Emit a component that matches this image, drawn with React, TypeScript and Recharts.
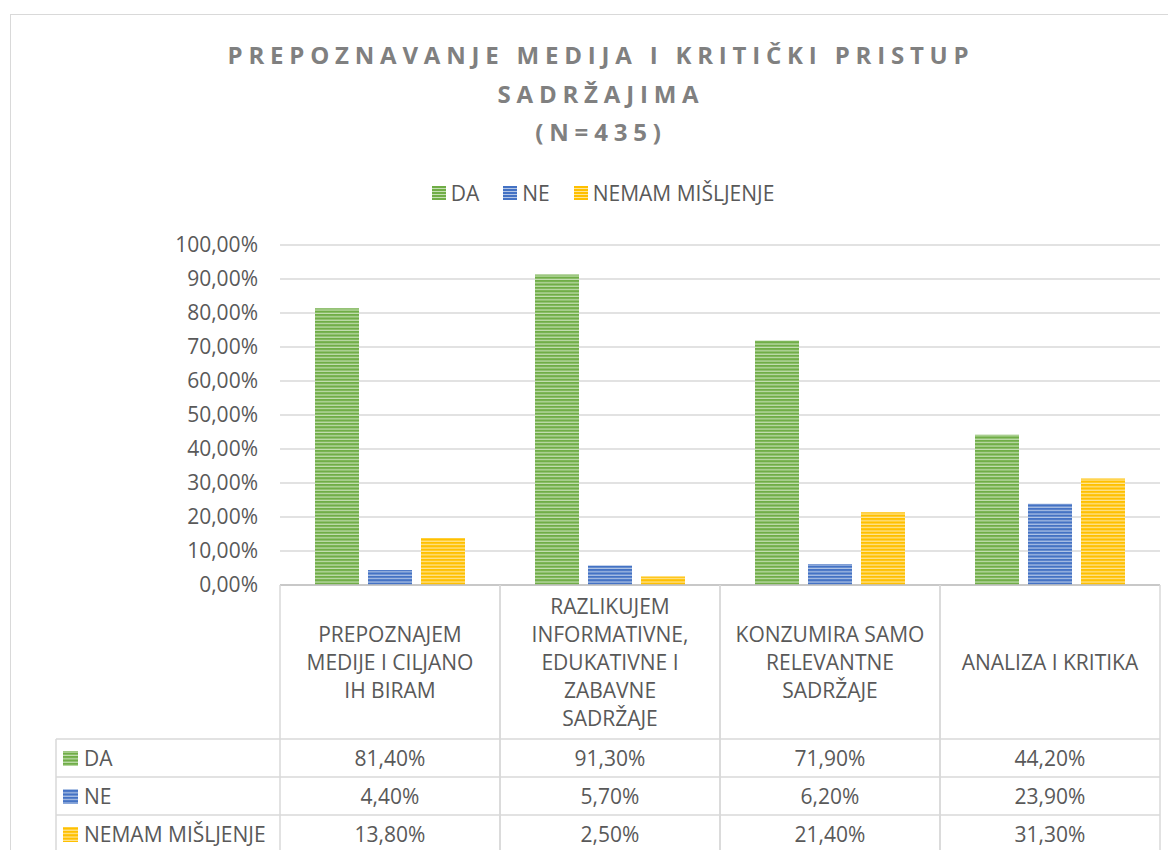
import {BarChart, Bar, XAxis, YAxis, CartesianGrid} from 'recharts';

const categories = [
    'PREPOZNAJEM\nMEDIJE I CILJANO\nIH BIRAM',
    'RAZLIKUJEM\nINFORMATIVNE,\nEDUKATIVNE I\nZABAVNE\nSADRŽAJE',
    'KONZUMIRA SAMO\nRELEVANTNE\nSADRŽAJE',
    'ANALIZA I KRITIKA',
];
const daValues = [81.4, 91.3, 71.9, 44.2];
const neValues = [4.4, 5.7, 6.2, 23.9];
const nemamValues = [13.8, 2.5, 21.4, 31.3];
const yTicks = [0, 10, 20, 30, 40, 50, 60, 70, 80, 90, 100];

const seriesList = [
    {key: 'da', name: 'DA', values: daValues, color: '#70AD47', light: '#C5E0B4'},
    {key: 'ne', name: 'NE', values: neValues, color: '#4472C4', light: '#B4C7E7'},
    {key: 'nemam', name: 'NEMAM MIŠLJENJE', values: nemamValues, color: '#FFC000', light: '#FFE699'},
];

const chartData = categories.map((name, i) => ({
    name,
    da: daValues[i],
    ne: neValues[i],
    nemam: nemamValues[i],
}));

const fmt = (v: number) => v.toFixed(2).replace('.', ',') + '%';

const FONT = '"Open Sans", sans-serif';
const FS = 21;
const TEXT = '#595959';
const LINE = '#d9d9d9';
const BAND = 220;
const HEAD_H = 154;
const ROW_H = 38;
const LEG_COL = 224;

const TableTick = (props: any) => {
    const {x, y, payload, index} = props;
    const left = x - BAND / 2;
    const right = x + BAND / 2;
    const lines = String(payload.value).split('\n');
    const lineH = 28;
    const headMid = y + HEAD_H / 2;
    const total = HEAD_H + ROW_H * 3;
    return (
        <g>
            <line x1={left} x2={left} y1={y} y2={y + total} stroke={LINE} strokeWidth={1.5} />
            <line x1={right} x2={right} y1={y} y2={y + total} stroke={LINE} strokeWidth={1.5} />
            {lines.map((l, k) => (
                <text key={k} x={x} y={headMid + (k - (lines.length - 1) / 2) * lineH} textAnchor="middle"
                      dominantBaseline="central" fill={TEXT} fontSize={FS} fontFamily={FONT}>{l}</text>
            ))}
            {seriesList.map((s, r) => {
                const top = y + HEAD_H + r * ROW_H;
                return (
                    <g key={s.key}>
                        <line x1={left} x2={right} y1={top} y2={top} stroke={LINE} strokeWidth={1.5} />
                        <text x={x} y={top + ROW_H / 2} textAnchor="middle" dominantBaseline="central"
                              fill={TEXT} fontSize={FS} fontFamily={FONT}>{fmt(s.values[index])}</text>
                        {index === 0 && (
                            <g>
                                <line x1={left - LEG_COL} x2={left} y1={top} y2={top} stroke={LINE} strokeWidth={1.5} />
                                <rect x={left - LEG_COL + 7} y={top + ROW_H / 2 - 7} width={15} height={15} fill={`url(#stripe-${s.key})`} />
                                <text x={left - LEG_COL + 28} y={top + ROW_H / 2} dominantBaseline="central"
                                      fill={TEXT} fontSize={FS} fontFamily={FONT}>{s.name}</text>
                            </g>
                        )}
                    </g>
                );
            })}
            <line x1={index === 0 ? left - LEG_COL : left} x2={right} y1={y + total} y2={y + total} stroke={LINE} strokeWidth={1.5} />
            {index === 0 && (
                <line x1={left - LEG_COL} x2={left - LEG_COL} y1={y + HEAD_H} y2={y + total} stroke={LINE} strokeWidth={1.5} />
            )}
        </g>
    );
};

export default function App() {
    return (
        <div style={{position: 'relative', width: 1160, height: 850, marginBottom: -8, overflow: 'hidden', background: '#fff'}}>
            <div style={{position: 'absolute', left: 2, top: 6, width: 1200, height: 900, border: '1px solid #d9d9d9'}} />
            <div style={{position: 'absolute', left: 0, top: 28, width: 1186, textAlign: 'center', fontFamily: FONT,
                fontWeight: 700, fontSize: 24, lineHeight: '38.5px', letterSpacing: 5.8, color: '#808080'}}>
                <div>PREPOZNAVANJE MEDIJA I KRITIČKI PRISTUP</div>
                <div>SADRŽAJIMA</div>
                <div>(N=435)</div>
            </div>
            <div style={{position: 'absolute', left: 0, top: 173, width: 1190, height: 24, display: 'flex',
                justifyContent: 'center', alignItems: 'center', fontFamily: FONT, fontSize: FS, color: TEXT}}>
                {seriesList.map(s => (
                    <div key={s.key} style={{display: 'flex', alignItems: 'center', margin: '0 12px'}}>
                        <span style={{display: 'inline-block', width: 14, height: 14, marginRight: 5,
                            background: `repeating-linear-gradient(to bottom, ${s.color} 0px, ${s.color} 2px, ${s.light} 2px, ${s.light} 3px)`}} />
                        <span>{s.name}</span>
                    </div>
                ))}
            </div>
            <div style={{position: 'absolute', left: 0, top: 0}}>
                <BarChart width={1160} height={860} data={chartData}
                          margin={{top: 237, right: 8, bottom: 0, left: 0}}
                          barCategoryGap={35} barGap={9}>
                    <defs>
                        {seriesList.map(s => (
                            <pattern key={s.key} id={`stripe-${s.key}`} patternUnits="userSpaceOnUse" width={8} height={3.4}>
                                <rect x={0} y={0} width={8} height={3.4} fill={s.light} />
                                <rect x={0} y={0} width={8} height={2.2} fill={s.color} />
                            </pattern>
                        ))}
                    </defs>
                    <CartesianGrid vertical={false} stroke={LINE} strokeWidth={1.5} />
                    <YAxis width={272} domain={[0, 100]} ticks={yTicks} tickFormatter={fmt}
                           axisLine={false} tickLine={false} tickSize={0} tickMargin={22}
                           tick={{fill: TEXT, fontSize: FS, fontFamily: FONT}} />
                    <XAxis dataKey="name" height={283} interval={0} tickSize={0} tickMargin={0}
                           axisLine={{stroke: '#bfbfbf', strokeWidth: 1.5}} tickLine={false}
                           tick={(p: any) => <TableTick {...p} />} />
                    {seriesList.map(s => (
                        <Bar key={s.key} dataKey={s.key} name={s.name} fill={`url(#stripe-${s.key})`}
                             isAnimationActive={false} />
                    ))}
                </BarChart>
            </div>
        </div>
    );
}
